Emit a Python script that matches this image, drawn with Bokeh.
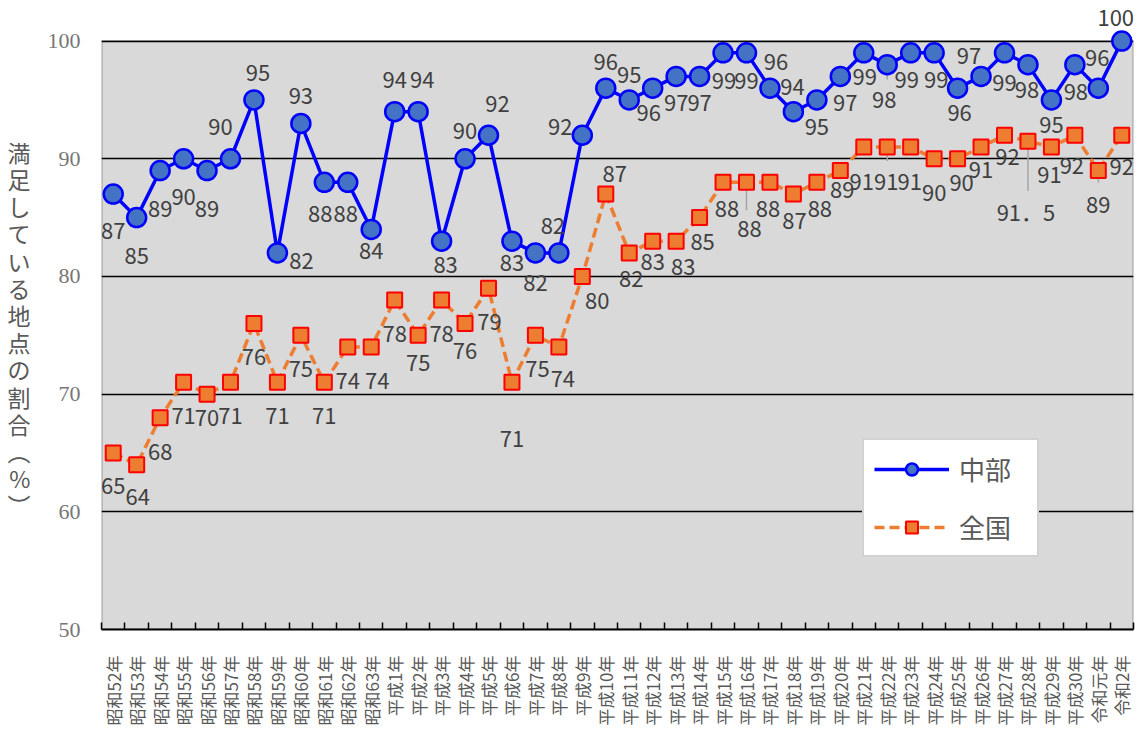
import math
from bokeh.plotting import figure
from bokeh.models import (Range1d, FixedTicker, BoxAnnotation, ColumnDataSource,
                          LabelSet, Legend, LegendItem)
from bokeh.core.properties import value
from bokeh.embed import file_html
from bokeh.resources import INLINE

categories = ["昭和52年", "昭和53年", "昭和54年", "昭和55年", "昭和56年", "昭和57年",
              "昭和58年", "昭和59年", "昭和60年", "昭和61年", "昭和62年", "昭和63年",
              "平成1年", "平成2年", "平成3年", "平成4年", "平成5年", "平成6年", "平成7年",
              "平成8年", "平成9年", "平成10年", "平成11年", "平成12年", "平成13年",
              "平成14年", "平成15年", "平成16年", "平成17年", "平成18年", "平成19年",
              "平成20年", "平成21年", "平成22年", "平成23年", "平成24年", "平成25年",
              "平成26年", "平成27年", "平成28年", "平成29年", "平成30年", "令和元年", "令和2年"]

chubu = [87, 85, 89, 90, 89, 90, 95, 82, 93, 88, 88, 84,
         94, 94, 83, 90, 92, 83, 82, 82, 92, 96, 95, 96, 97, 97, 99, 99, 96, 94,
         95, 97, 99, 98, 99, 99, 96, 97, 99, 98, 95, 98, 96, 100]

zenkoku = [65, 64, 68, 71, 70, 71, 76, 71, 75, 71, 74, 74,
           78, 75, 78, 76, 79, 71, 75, 74, 80, 87, 82, 83, 83, 85, 88, 88, 88, 87,
           88, 89, 91, 91, 91, 90, 90, 91, 92, 91.5, 91, 92, 89, 92]

chubu_labels = [str(v) for v in chubu]
zenkoku_labels = ["91．5" if v == 91.5 else str(int(v)) for v in zenkoku]

y_ticks = [50, 60, 70, 80, 90, 100]
series_names = ["中部", "全国"]
y_title_chars = ["満", "足", "し", "て", "い", "る", "地", "点", "の", "割", "合", "︵", "%", "︶"]

# ---- label placement (screen px, +y = up) ----
chubu_dx = [0, 0, 0, 0, 0, -10, 4, 24, 0, -4, -2, 0, 0, 4, 4, 0, 9, 0, 0, -6,
            -22, 0, 0, -4, 0, 0, 1, 0, 6, -1, 0, 5, 1, -3, -4, 2, 2, -12, 0, -1,
            0, 1, -1, -6]
chubu_dy = [-37, -38, -38, -38, -38, 32, 27, -8, 27, -32, -32, -22, 32, 32, -24, 28, 31, -22, -30, 27,
            8, 26, 25, -25, -27, -27, -28, -28, 26, 25, -27, -27, -24, -35, -27, -27, -25, 20, -30, -25,
            -25, -27, 30, 23]
zen_dx = [0, 1, 0, 0, 0, 0, 0, 0, 0, 0, 0, 6, 0, 0, 0, 0, 1, 0, 2, 4,
          15, 9, 2, 0, 7, 3, 4, 3, -2, 1, 3, 2, -2, -1, -1, 0, 4, 0, 3, -2,
          -2, -3, 0, 0]
zen_dy = [-33, -32, -34, -34, -24, -34, -33, -34, -34, -34, -34, -34, -34, -28, -34, -27, -34, -57, -34, -32,
          -25, 20, -26, -21, -26, -24, -27, -47, -27, -27, -27, -19, -35, -35, -35, -34, -24, -23, -22, -70,
          -28, -31, -34, -32]
# leader lines: (series, index, length in px)
leaders = [("c", 33, 15), ("z", 27, 28), ("z", 33, 14), ("z", 39, 50), ("z", 42, 12)]

n = len(categories)
xs = list(range(n))

W, H = 1140, 728
p = figure(width=W, height=H, output_backend="svg", toolbar_location=None,
           x_range=Range1d(-0.5, n - 0.5), y_range=Range1d(50, 103.45),
           min_border_left=101, min_border_right=7, min_border_top=0, min_border_bottom=96)
p.background_fill_color = "white"
p.border_fill_color = "white"
p.outline_line_color = None
p.xgrid.visible = False
p.ygrid.visible = False

# plot area box
p.add_layout(BoxAnnotation(bottom=50, top=100, left=-0.5, right=n - 0.5,
                           fill_color="#d9d9d9", fill_alpha=1.0,
                           line_color="black", line_width=2, level="underlay"))
p.hspan(y=y_ticks[1:], line_color="black", line_width=1.5)

# axes
p.xaxis.ticker = FixedTicker(ticks=xs, minor_ticks=[i - 0.5 for i in range(n + 1)])
p.xaxis.major_label_overrides = {i: c for i, c in enumerate(categories)}
p.xaxis.major_label_orientation = math.pi / 2
p.xaxis.major_tick_line_color = None
p.xaxis.minor_tick_in = 7
p.xaxis.minor_tick_out = 0
p.xaxis.minor_tick_line_color = "black"
p.xaxis.minor_tick_line_width = 1.5
p.xaxis.axis_line_color = "black"
p.xaxis.axis_line_width = 2
p.xaxis.major_label_text_font = "Noto Sans CJK JP"
p.xaxis.major_label_text_font_size = "17px"
p.xaxis.major_label_text_color = "#595959"
p.xaxis.major_label_standoff = 20

p.yaxis.ticker = FixedTicker(ticks=y_ticks)
p.yaxis.axis_line_color = None
p.yaxis.major_tick_line_color = None
p.yaxis.minor_tick_line_color = None
p.yaxis.major_label_text_font = "Liberation Serif"
p.yaxis.major_label_text_font_size = "22px"
p.yaxis.major_label_text_color = "#767676"
p.yaxis.major_label_standoff = 15
# vertical-writing title: one upright character per line
p.yaxis.axis_label = "\n" + "\n".join(y_title_chars)
p.yaxis.axis_label_orientation = "horizontal"
p.yaxis.axis_label_text_font = "Noto Sans CJK JP"
p.yaxis.axis_label_text_font_size = "23px"
p.yaxis.axis_label_text_font_style = "normal"
p.yaxis.axis_label_text_color = "#595959"
p.yaxis.axis_label_text_line_height = 0.8
p.yaxis.axis_label_standoff = 14

# leader lines
x0s, y0s, y1s = [], [], []
for s, i, L in leaders:
    v = chubu[i] if s == "c" else zenkoku[i]
    x0s.append(xs[i]); y0s.append(v); y1s.append(v - L / 11.82)
p.segment(x0=x0s, y0=y0s, x1=x0s, y1=y1s, line_color="#a6a6a6", line_width=1.5)

# series
l_c = p.line(xs, chubu, line_color="#0000ff", line_width=3.5)
s_c = p.scatter(xs, chubu, marker="circle", size=19, fill_color="#4472c4",
                line_color="#0000ff", line_width=2.5)
l_z = p.line(xs, zenkoku, line_color="#ed7d31", line_width=3.5, line_dash="10 5")
s_z = p.scatter(xs, zenkoku, marker="square", size=15, fill_color="#ed7d31",
                line_color="#ff0000", line_width=2)

# data labels
src_c = ColumnDataSource(dict(x=xs, y=chubu, t=chubu_labels, dx=chubu_dx, dy=chubu_dy))
src_z = ColumnDataSource(dict(x=xs, y=zenkoku, t=zenkoku_labels, dx=zen_dx, dy=zen_dy))
for src in (src_c, src_z):
    p.add_layout(LabelSet(x="x", y="y", text="t", source=src, x_offset="dx", y_offset="dy",
                          text_align="center", text_baseline="middle",
                          text_font=value("Noto Sans CJK JP"), text_font_size="22px",
                          text_color="#404040"))

legend = Legend(items=[LegendItem(label=series_names[0], renderers=[l_c, s_c]),
                       LegendItem(label=series_names[1], renderers=[l_z, s_z])],
                location=(761, 72), orientation="vertical",
                border_line_color="#a6a6a6", border_line_width=2,
                background_fill_color="white", background_fill_alpha=1.0,
                label_text_font="Noto Sans CJK JP", label_text_font_size="26px",
                label_text_color="#595959", glyph_width=75, glyph_height=30,
                label_height=30, label_width=68, spacing=21, padding=10,
                label_standoff=10, margin=0)
p.add_layout(legend)

open("out.html", "w").write(file_html(p, INLINE))
